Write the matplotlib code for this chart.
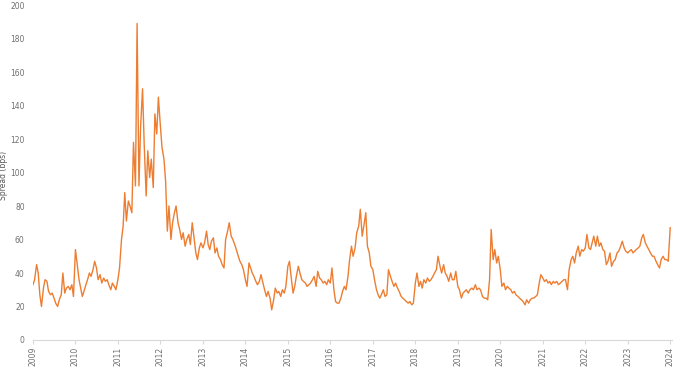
import matplotlib
matplotlib.use("Agg")
import matplotlib.pyplot as plt
import matplotlib.dates as mdates
import pandas as pd
import numpy as np

# semi-monthly spread observations (bps), one list per year
y2009 = [33, 36, 45, 40, 27, 20, 31, 36, 35, 29, 27, 28, 25, 22, 20, 24, 27, 40, 28, 31, 32, 30, 33, 26]
y2010 = [54, 46, 36, 31, 26, 29, 33, 36, 40, 38, 42, 47, 43, 36, 39, 34, 37, 35, 36, 33, 30, 34, 32, 30]
y2011 = [36, 43, 60, 68, 88, 71, 83, 80, 76, 118, 92, 189, 92, 127, 150, 117, 86, 113, 97, 108, 91, 135, 123, 145]
y2012 = [128, 115, 108, 95, 65, 80, 60, 70, 76, 80, 70, 66, 60, 64, 56, 60, 63, 57, 70, 62, 52, 48, 55, 58]
y2013 = [55, 58, 65, 57, 54, 59, 61, 52, 55, 50, 48, 45, 43, 60, 65, 70, 62, 60, 57, 54, 50, 47, 45, 42]
y2014 = [36, 32, 46, 43, 40, 38, 35, 33, 35, 39, 34, 30, 26, 29, 25, 18, 24, 31, 28, 29, 26, 30, 28, 32]
y2015 = [44, 47, 36, 28, 32, 38, 44, 40, 36, 35, 34, 32, 33, 34, 36, 38, 32, 41, 37, 36, 34, 35, 33, 36]
y2016 = [34, 43, 30, 23, 22, 22, 25, 29, 32, 30, 38, 48, 56, 50, 55, 64, 68, 78, 62, 68, 76, 56, 52, 44]
y2017 = [42, 36, 30, 27, 25, 27, 30, 26, 27, 42, 38, 35, 32, 34, 31, 29, 26, 25, 24, 23, 22, 23, 21, 22]
y2018 = [34, 40, 32, 35, 31, 36, 34, 37, 35, 36, 38, 40, 42, 50, 44, 40, 45, 40, 38, 35, 40, 36, 36, 41]
y2019 = [32, 30, 25, 28, 29, 30, 28, 30, 31, 30, 33, 30, 31, 30, 26, 25, 25, 24, 36, 66, 48, 54, 46, 50]
y2020 = [42, 32, 34, 30, 32, 31, 30, 28, 29, 27, 26, 25, 24, 23, 21, 24, 22, 24, 25, 25, 26, 27, 34, 39]
y2021 = [37, 35, 36, 34, 35, 33, 35, 34, 35, 33, 34, 35, 36, 36, 30, 42, 48, 50, 46, 52, 56, 50, 54, 53]
y2022 = [55, 63, 55, 54, 58, 62, 56, 62, 56, 58, 54, 53, 45, 47, 52, 44, 47, 48, 52, 53, 56, 59, 55, 53]
y2023 = [52, 53, 54, 52, 53, 54, 55, 56, 61, 63, 58, 56, 54, 52, 50, 50, 47, 45, 43, 48, 50, 48, 48, 47]
y2024 = [67]

spread = (y2009 + y2010 + y2011 + y2012 + y2013 + y2014 + y2015 + y2016 + y2017 +
          y2018 + y2019 + y2020 + y2021 + y2022 + y2023 + y2024)
dates = pd.date_range("2009-01-01", periods=len(spread), freq="SMS")

year_ticks = list(range(2009, 2025))
y_ticks = list(range(0, 201, 20))

fig = plt.figure(figsize=(6.8, 3.69), dpi=100)
ax = fig.add_axes([0.0485, 0.0786, 0.9395, 0.9078])

ax.plot(dates, spread, color="#ED7D31", linewidth=1.0)

ax.set_ylim(0, 200)
ax.set_xlim(pd.Timestamp("2009-01-01"), pd.Timestamp("2024-01-15"))
ax.set_yticks(y_ticks)
ax.set_xticks([pd.Timestamp(f"{y}-01-01") for y in year_ticks])
ax.set_xticklabels([str(y) for y in year_ticks], rotation=90)

for s in ["top", "right", "left"]:
    ax.spines[s].set_visible(False)
ax.spines["bottom"].set_color("#D9D9D9")
ax.spines["bottom"].set_linewidth(0.8)

ax.tick_params(axis="y", length=0, pad=6, labelsize=5.5, labelcolor="#707070")
ax.tick_params(axis="x", length=3, width=0.8, color="#D9D9D9", pad=2,
               labelsize=5.5, labelcolor="#707070")

ax.set_ylabel("Spread (bps)", fontsize=5.5, color="#595959")
ax.yaxis.set_label_coords(-0.039, 0.49)

fig.savefig("out.png", dpi=100)
